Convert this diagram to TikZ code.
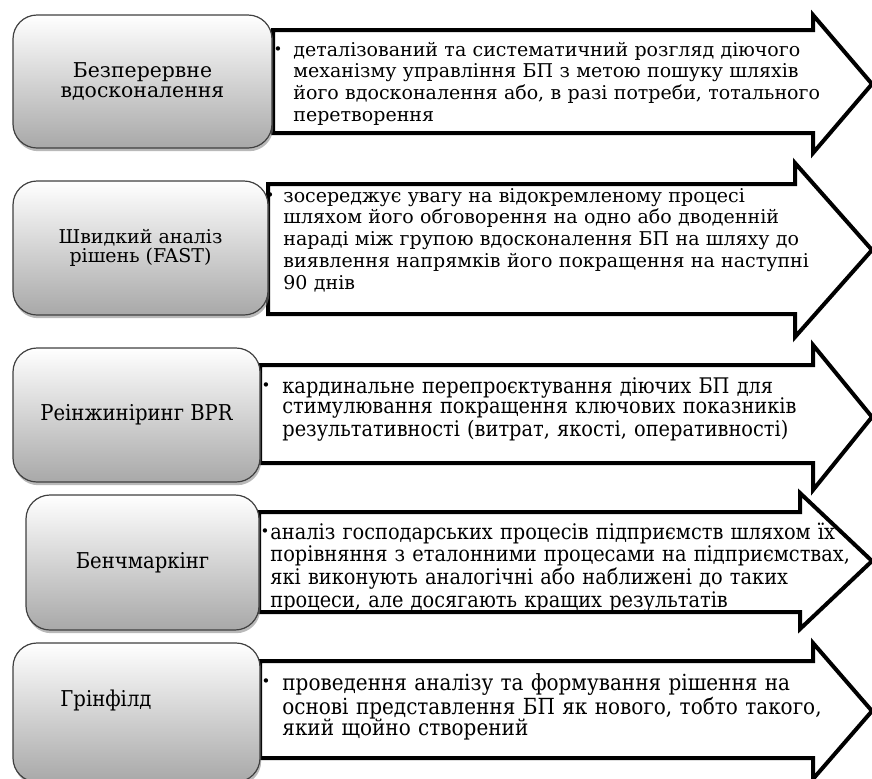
\documentclass[tikz,border=0pt]{standalone}
\usepackage{fontspec}
\setmainfont{DejaVu Serif}
\newfontfamily\rowfont{DejaVu Serif}
\newfontfamily\narrowfont{DejaVu Serif}[FakeStretch=0.9]
\usetikzlibrary{shadows}

\begin{document}
\begin{tikzpicture}[x=0.5pt, y=-0.5pt, line join=miter,
    method/.style={draw=black!75, line width=0.6pt, rounded corners=12pt,
        top color=white, bottom color=black!34,
        drop shadow={shadow xshift=0.6pt, shadow yshift=-1.6pt, opacity=0.55},
        align=center, font=\rowfont\fontsize{10.2}{9.8}\selectfont},
    narrowmethod/.style={method, font=\narrowfont\fontsize{10.9}{10.9}\selectfont},
    flow/.style={draw=black, line width=2pt, fill=white},
    item/.style={inner sep=0pt, text width=300pt, align=left, anchor=base west,
        font=\rowfont\fontsize{9.5}{10.9}\selectfont},
    narrowitem/.style={item, font=\narrowfont\fontsize{10.75}{10.4}\selectfont},
    dot/.style={inner sep=0pt, anchor=base, font=\rowfont\fontsize{7.5}{7.5}\selectfont}]

    \useasboundingbox (0,0) rectangle (872,778);

    % Row 1: Безперервне вдосконалення
    \draw[flow] (273,30) -- (813,30) -- (813,15) -- (872,84) -- (813,153) -- (813,133) -- (273,133) -- cycle;
    \node[method, minimum width=129.5pt, minimum height=66.5pt] (m1) at (142.5,81.5) {Безперервне\\вдосконалення};
    \node[dot] (b1) at (278,54) {\textbullet};
    \node[item] (d1) at (293,56) {деталізований та систематичний розгляд діючого\\
        механізму управління БП з метою пошуку шляхів\\
        його вдосконалення або, в разі потреби, тотального\\
        перетворення};

    % Row 2: FAST
    \draw[flow] (268,184) -- (795,184) -- (795,163) -- (872,250) -- (795,337) -- (795,314) -- (268,314) -- cycle;
    \node[method, minimum width=127.5pt, minimum height=67pt, font=\rowfont\fontsize{9.5}{9.8}\selectfont] (m2) at (140.5,248) {Швидкий аналіз\\рішень (FAST)};
    \node[dot] (b2) at (270,200) {\textbullet};
    \node[item] (d2) at (283,202) {зосереджує увагу на відокремленому процесі\\
        шляхом його обговорення на одно або дводенній\\
        нараді між групою вдосконалення БП на шляху до\\
        виявлення напрямків його покращення на наступні\\
        90 днів};

    % Row 3: BPR
    \draw[flow] (260,365) -- (813,365) -- (813,345) -- (872,417) -- (813,490) -- (813,463) -- (260,463) -- cycle;
    \node[narrowmethod, minimum width=123.5pt, minimum height=67pt] (m3) at (136.5,415) {Реінжиніринг BPR};
    \node[dot] (b3) at (266,390) {\textbullet};
    \node[narrowitem] (d3) at (282,393) {кардинальне перепроєктування діючих БП для\\
        стимулювання покращення ключових показників\\
        результативності (витрат, якості, оперативності)};

    % Row 4: Бенчмаркінг
    \draw[flow] (259,512) -- (800,512) -- (800,493) -- (872,561) -- (800,629) -- (800,612) -- (259,612) -- cycle;
    \node[narrowmethod, minimum width=116.5pt, minimum height=67.5pt] (m4) at (142.5,562.5) {Бенчмаркінг};
    \node[dot] (b4) at (265,536) {\textbullet};
    \node[narrowitem, font=\narrowfont\fontsize{10.75}{9.7}\selectfont] (d4) at (270,539) {аналіз господарських процесів підприємств шляхом їх\\
        порівняння з еталонними процесами на підприємствах,\\
        які виконують аналогічні або наближені до таких\\
        процеси, але досягають кращих результатів};

    % Row 5: Грінфілд
    \draw[flow] (260,661) -- (813,661) -- (813,643) -- (872,711) -- (813,779) -- (813,758) -- (260,758) -- cycle;
    \node[method, minimum width=123.5pt, minimum height=69.5pt] (m5) at (136.5,712.5) {};
    \node[font=\narrowfont\fontsize{10.9}{10.9}\selectfont] (g5) at (106,700) {Грінфілд};
    \node[dot] (b5) at (266,686) {\textbullet};
    \node[narrowitem, font=\narrowfont\fontsize{11.1}{10.8}\selectfont] (d5) at (282,690) {проведення аналізу та формування рішення на\\
        основі представлення БП як нового, тобто такого,\\
        який щойно створений};

\end{tikzpicture}
\end{document}
